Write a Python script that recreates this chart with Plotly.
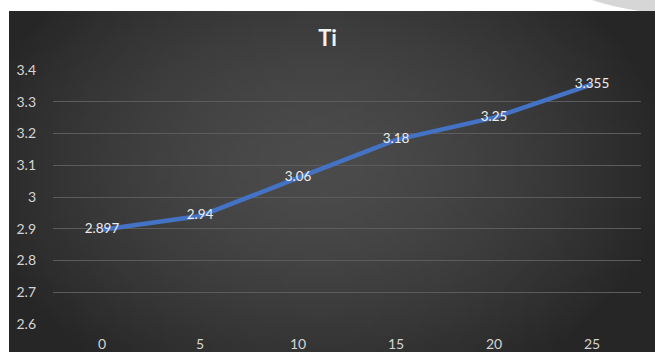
import base64
import struct
import zlib

import plotly.graph_objects as go

# Data
categories = ["0", "5", "10", "15", "20", "25"]
ti_values = [2.897, 2.94, 3.06, 3.18, 3.25, 3.355]
y_tick_values = [2.6, 2.7, 2.8, 2.9, 3.0, 3.1, 3.2, 3.3, 3.4]
y_tick_labels = ["2.6", "2.7", "2.8", "2.9", "3", "3.1", "3.2", "3.3", "3.4"]

# Figure geometry in pixels
W, H = 655, 352
L, R, T, B = 53, 14, 70, 28
PW, PH = W - L - R, H - T - B
FONT = "Lato, 'Open Sans', sans-serif"


def px_to_paper(px, py):
    return (px - L) / PW, (H - B - py) / PH


def gradient_png(w, h):
    """Grayscale radial gradient used as the chart-area background."""
    rows = []
    for j in range(h):
        row = bytearray([0])
        for i in range(w):
            dx = (i / (w - 1) - 0.48) / 0.55
            dy = (j / (h - 1) - 0.45) / 0.75
            d = min(1.0, (dx * dx + dy * dy) ** 0.5)
            v = 0x4b - (0x4b - 0x26) * (d ** 1.6)
            row.append(int(round(v)))
        rows.append(bytes(row))
    raw = b"".join(rows)

    def chunk(tag, data):
        c = struct.pack(">I", len(data)) + tag + data
        return c + struct.pack(">I", zlib.crc32(tag + data) & 0xFFFFFFFF)

    png = b"\x89PNG\r\n\x1a\n"
    png += chunk(b"IHDR", struct.pack(">IIBBBBB", w, h, 8, 0, 0, 0, 0))
    png += chunk(b"IDAT", zlib.compress(raw, 9))
    png += chunk(b"IEND", b"")
    return "data:image/png;base64," + base64.b64encode(png).decode()


bg_x0, bg_y0 = px_to_paper(9, 11)
bg_x1, bg_y1 = px_to_paper(W, H)

fig = go.Figure()
fig.add_trace(
    go.Scatter(
        x=categories,
        y=ti_values,
        mode="lines+text",
        line=dict(color="#4472C4", width=4.5),
        text=[f"{v:g}" for v in ti_values],
        textposition="middle center",
        textfont=dict(family=FONT, size=13.5, color="#ececec"),
        hoverinfo="x+y",
        showlegend=False,
    )
)

# light corner swoosh in the top-right margin
p = [px_to_paper(x, y) for x, y in [(592, 0), (612, 7), (640, 11), (W, 11), (W, 0)]]
corner_path = (
    f"M {p[0][0]},{p[0][1]} Q {p[1][0]},{p[1][1]} {p[2][0]},{p[2][1]} "
    f"L {p[3][0]},{p[3][1]} L {p[4][0]},{p[4][1]} Z"
)

fig.update_layout(
    width=W,
    height=H,
    autosize=False,
    margin=dict(l=L, r=R, t=T, b=B, pad=0, autoexpand=False),
    paper_bgcolor="white",
    plot_bgcolor="rgba(0,0,0,0)",
    title=dict(
        text="<b>Ti</b>",
        x=0.5,
        xanchor="center",
        y=1 - 38 / H,
        yanchor="middle",
        font=dict(family=FONT, size=22, color="#f2f2f2"),
    ),
    images=[
        dict(
            source=gradient_png(96, 52),
            xref="paper",
            yref="paper",
            x=bg_x0,
            y=bg_y0,
            sizex=bg_x1 - bg_x0,
            sizey=bg_y0 - bg_y1,
            xanchor="left",
            yanchor="top",
            sizing="stretch",
            layer="below",
        )
    ],
    shapes=[
        dict(
            type="path",
            xref="paper",
            yref="paper",
            path=corner_path,
            fillcolor="#d6d6d6",
            line=dict(width=0),
            layer="below",
        )
    ],
    xaxis=dict(
        type="category",
        range=[-0.5, 5.5],
        automargin=False,
        showgrid=False,
        zeroline=False,
        showline=False,
        ticks="",
        ticklabelstandoff=10,
        tickfont=dict(family=FONT, size=14, color="#d4d4d4"),
    ),
    yaxis=dict(
        range=[2.6, 3.4],
        automargin=False,
        tickvals=y_tick_values,
        ticktext=y_tick_labels,
        showgrid=True,
        gridcolor="#5c5c5c",
        gridwidth=1,
        zeroline=False,
        showline=False,
        ticks="",
        ticklabelstandoff=16,
        tickfont=dict(family=FONT, size=14, color="#d4d4d4"),
    ),
)

fig.write_html("out.html", config={"responsive": False})
